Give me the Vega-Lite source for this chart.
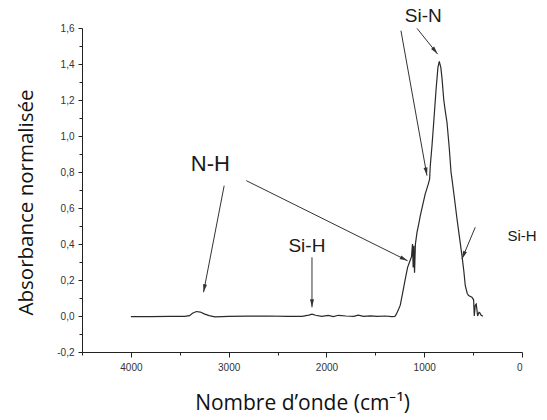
{
  "$schema": "https://vega.github.io/schema/vega-lite/v6.json",
  "width": 440,
  "height": 324,
  "autosize": {"type": "none"},
  "padding": {"left": 82, "top": 28, "right": 25, "bottom": 68},
  "background": "white",
  "config": {
    "view": {"stroke": null},
    "axis": {"grid": false, "domainColor": "#222", "tickColor": "#222", "labelColor": "#333", "labelFont": "Liberation Sans", "labelFontSize": 10, "titleFont": "Open Sans", "titleFontWeight": "normal", "titleColor": "#111"}
  },
  "datasets": {
    "spectrum": [
      {"wn": 4000, "abs": -0.004}, {"wn": 3800, "abs": -0.003}, {"wn": 3600, "abs": -0.002},
      {"wn": 3450, "abs": -0.002}, {"wn": 3400, "abs": 0.002}, {"wn": 3370, "abs": 0.015},
      {"wn": 3330, "abs": 0.025}, {"wn": 3290, "abs": 0.022}, {"wn": 3250, "abs": 0.012},
      {"wn": 3200, "abs": 0.002}, {"wn": 3140, "abs": -0.005}, {"wn": 3000, "abs": -0.002},
      {"wn": 2800, "abs": -0.001}, {"wn": 2600, "abs": 0.0}, {"wn": 2400, "abs": -0.002},
      {"wn": 2250, "abs": -0.002}, {"wn": 2180, "abs": 0.005}, {"wn": 2148, "abs": 0.01},
      {"wn": 2110, "abs": 0.004}, {"wn": 2050, "abs": -0.002}, {"wn": 1980, "abs": 0.003},
      {"wn": 1930, "abs": -0.003}, {"wn": 1876, "abs": 0.004}, {"wn": 1800, "abs": 0.0},
      {"wn": 1720, "abs": -0.002}, {"wn": 1675, "abs": 0.005}, {"wn": 1620, "abs": -0.002},
      {"wn": 1550, "abs": 0.001}, {"wn": 1480, "abs": -0.002}, {"wn": 1400, "abs": 0.0},
      {"wn": 1330, "abs": -0.003}, {"wn": 1300, "abs": -0.002}, {"wn": 1285, "abs": 0.01},
      {"wn": 1260, "abs": 0.04}, {"wn": 1245, "abs": 0.06}, {"wn": 1220, "abs": 0.13},
      {"wn": 1194, "abs": 0.205}, {"wn": 1170, "abs": 0.27}, {"wn": 1150, "abs": 0.30},
      {"wn": 1130, "abs": 0.33}, {"wn": 1120, "abs": 0.40}, {"wn": 1113, "abs": 0.27},
      {"wn": 1106, "abs": 0.39}, {"wn": 1099, "abs": 0.24}, {"wn": 1090, "abs": 0.40},
      {"wn": 1074, "abs": 0.465}, {"wn": 1060, "abs": 0.50}, {"wn": 1040, "abs": 0.557},
      {"wn": 1010, "abs": 0.63}, {"wn": 989, "abs": 0.68}, {"wn": 960, "abs": 0.73},
      {"wn": 945, "abs": 0.76}, {"wn": 938, "abs": 0.835}, {"wn": 920, "abs": 0.95},
      {"wn": 903, "abs": 1.075}, {"wn": 880, "abs": 1.25}, {"wn": 860, "abs": 1.38},
      {"wn": 846, "abs": 1.415}, {"wn": 830, "abs": 1.38}, {"wn": 818, "abs": 1.32},
      {"wn": 800, "abs": 1.2}, {"wn": 785, "abs": 1.14}, {"wn": 767, "abs": 1.075},
      {"wn": 745, "abs": 0.94}, {"wn": 726, "abs": 0.80}, {"wn": 716, "abs": 0.76},
      {"wn": 690, "abs": 0.65}, {"wn": 665, "abs": 0.54}, {"wn": 640, "abs": 0.44},
      {"wn": 614, "abs": 0.335}, {"wn": 595, "abs": 0.25}, {"wn": 580, "abs": 0.168},
      {"wn": 560, "abs": 0.125}, {"wn": 546, "abs": 0.113}, {"wn": 512, "abs": 0.104},
      {"wn": 495, "abs": 0.09}, {"wn": 488, "abs": 0.0}, {"wn": 478, "abs": 0.06},
      {"wn": 468, "abs": 0.067}, {"wn": 460, "abs": 0.03}, {"wn": 454, "abs": 0.0},
      {"wn": 440, "abs": 0.02}, {"wn": 432, "abs": 0.018}, {"wn": 420, "abs": 0.005},
      {"wn": 400, "abs": -0.002}
    ],
    "arrows": [
      {"id": "NH1", "x1": 3046, "y1": 0.724, "x2": 3257, "y2": 0.132},
      {"id": "NH2", "x1": 2820, "y1": 0.752, "x2": 1170, "y2": 0.307},
      {"id": "SiH1", "x1": 2148, "y1": 0.326, "x2": 2148, "y2": 0.048},
      {"id": "SiN1", "x1": 1238, "y1": 1.585, "x2": 972, "y2": 0.78},
      {"id": "SiN2", "x1": 1074, "y1": 1.598, "x2": 863, "y2": 1.455},
      {"id": "SiH2", "x1": 478, "y1": 0.493, "x2": 614, "y2": 0.317}
    ],
    "labels": [
      {"label": "N-H", "x": 3187, "y": 0.844},
      {"label": "Si-H", "x": 2200, "y": 0.39},
      {"label": "Si-N", "x": 1010, "y": 1.668},
      {"label": "Si-H ", "x": 0, "y": 0.446}
    ]
  },
  "layer": [
    {
      "data": {"name": "spectrum"},
      "mark": {"type": "line", "color": "#2a2a2a", "strokeWidth": 1.2, "clip": false},
      "encoding": {
        "x": {"field": "wn", "type": "quantitative",
          "scale": {"domain": [4500, 0], "nice": false, "zero": false},
          "axis": {"values": [4000, 3000, 2000, 1000, 0], "format": "d", "tickSize": 5, "labelPadding": 5, "title": "Nombre d’onde (cm⁻¹)", "titleFontSize": 21, "titlePadding": 20}},
        "y": {"field": "abs", "type": "quantitative",
          "scale": {"domain": [-0.2, 1.6], "nice": false, "zero": false},
          "axis": {"values": [-0.2, 0, 0.2, 0.4, 0.6, 0.8, 1.0, 1.2, 1.4, 1.6], "tickSize": 4, "labelPadding": 4,
            "labelExpr": "datum.value < 0 ? '-' + replace(format(-datum.value, '.1f'), '.', ',') : replace(format(datum.value, '.1f'), '.', ',')",
            "title": "Absorbance normalisée", "titleFontSize": 20.5, "titlePadding": 20, "titleY": 174}}
      }
    },
    {
      "data": {"name": "arrows"},
      "mark": {"type": "rule", "color": "#333", "strokeWidth": 1},
      "encoding": {
        "x": {"field": "x1", "type": "quantitative",
          "axis": {"values": [4500, 3500, 2500, 1500, 500], "labels": false, "domain": false, "tickSize": 3, "title": null, "orient": "bottom"}},
        "y": {"field": "y1", "type": "quantitative",
          "axis": {"values": [-0.1, 0.1, 0.3, 0.5, 0.7, 0.9, 1.1, 1.3, 1.5], "labels": false, "domain": false, "tickSize": 3, "title": null, "orient": "left"}},
        "x2": {"field": "x2"},
        "y2": {"field": "y2"}
      }
    },
    {
      "data": {"name": "arrows"},
      "transform": [
        {"calculate": "atan2(-(datum.x2 - datum.x1) * 0.09775, (datum.y2 - datum.y1) * 180) * 180 / PI", "as": "angle"}
      ],
      "mark": {"type": "point", "shape": "M0,0L0.5,2L-0.5,2Z", "filled": true, "color": "#333", "size": 64, "opacity": 1},
      "encoding": {
        "x": {"field": "x2", "type": "quantitative", "axis": null},
        "y": {"field": "y2", "type": "quantitative", "axis": null},
        "angle": {"field": "angle", "type": "quantitative", "scale": null}
      }
    },
    {
      "data": {"name": "labels"},
      "transform": [{"filter": "datum.label === 'N-H'"}],
      "mark": {"type": "text", "font": "Liberation Sans", "fontSize": 22, "color": "#1a1a1a", "align": "center", "baseline": "middle"},
      "encoding": {
        "x": {"field": "x", "type": "quantitative", "axis": null},
        "y": {"field": "y", "type": "quantitative", "axis": null},
        "text": {"field": "label"}
      }
    },
    {
      "data": {"name": "labels"},
      "transform": [{"filter": "datum.label === 'Si-H' || datum.label === 'Si-N'"}],
      "mark": {"type": "text", "font": "Liberation Sans", "fontSize": 19, "color": "#1a1a1a", "align": "center", "baseline": "middle"},
      "encoding": {
        "x": {"field": "x", "type": "quantitative", "axis": null},
        "y": {"field": "y", "type": "quantitative", "axis": null},
        "text": {"field": "label"}
      }
    },
    {
      "data": {"name": "labels"},
      "transform": [{"filter": "datum.label === 'Si-H '"}],
      "mark": {"type": "text", "font": "Liberation Sans", "fontSize": 15, "color": "#1a1a1a", "align": "center", "baseline": "middle"},
      "encoding": {
        "x": {"field": "x", "type": "quantitative", "axis": null},
        "y": {"field": "y", "type": "quantitative", "axis": null},
        "text": {"field": "label"}
      }
    }
  ],
  "resolve": {"axis": {"x": "independent", "y": "independent"}}
}
